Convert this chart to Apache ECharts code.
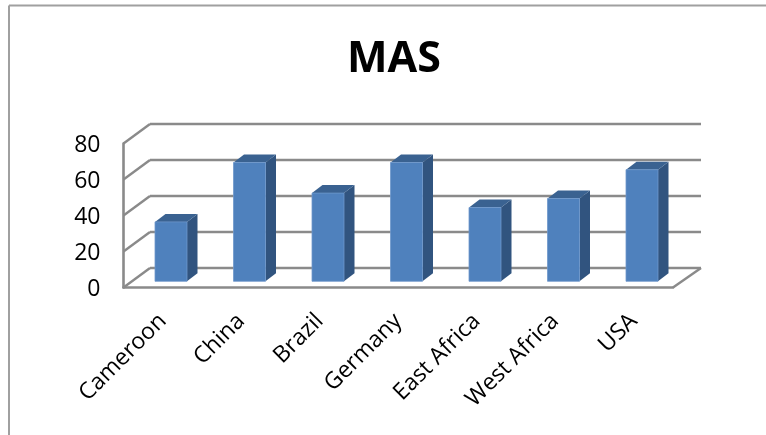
<!DOCTYPE html>
<html><head><meta charset="utf-8">
<style>html,body{margin:0;padding:0;background:#fff}#c{width:766px;height:435px}</style>
<script src="https://cdn.jsdelivr.net/npm/echarts@6/dist/echarts.min.js"></script>
</head><body><div id="c"></div>
<script>
const categories = ['Cameroon','China','Brazil','Germany','East Africa','West Africa','USA'];
const masValues = [33, 66, 49, 66, 41, 46, 62];
const yTicks = [0, 20, 40, 60, 80];
const titleText = 'MAS';
const font = '"Open Sans", sans-serif';
const gridColor = '#8a8a8a';
const wallDx = 26.5, wallDxRight = 28, wallDy = -19.5;
const barDx = 8.25, barDy = -6.2, barW = 32, sideDx = 10.5, sideDy = -8;

const chart = echarts.init(document.getElementById('c'), null, {renderer:'canvas'});
function lineEl(x1,y1,x2,y2){
  return {type:'line',shape:{x1,y1,x2,y2},style:{stroke:gridColor,lineWidth:2.4,fill:null}};
}
chart.setOption({
  animation:false,
  backgroundColor:'#fff',
  title:{text:titleText,left:389,top:33,textAlign:'center',
    textStyle:{fontFamily:font,fontSize:43,fontWeight:'bold',color:'#000'}},
  grid:{left:123.5,right:93,top:143.5,bottom:147.5,containLabel:false},
  xAxis:{type:'category',data:categories,
    axisTick:{show:false},
    axisLine:{lineStyle:{color:gridColor,width:2.6}},
    axisLabel:{rotate:45,interval:0,margin:30,fontFamily:font,fontSize:23,color:'#000'}},
  yAxis:{type:'value',min:0,max:80,interval:20,
    splitLine:{show:false},
    axisTick:{show:false},
    axisLine:{show:true,lineStyle:{color:gridColor,width:2.6}},
    axisLabel:{show:false}},
  graphic:[
    {type:'line',silent:true,z:-1,shape:{x1:9,y1:435,x2:9,y2:5.5},style:{stroke:'#a0a0a0',lineWidth:2}},
    {type:'line',silent:true,z:-1,shape:{x1:9,y1:5.5,x2:766,y2:5.5},style:{stroke:'#a0a0a0',lineWidth:2}}
  ],
  series:[
    {type:'custom',z:1,coordinateSystem:'cartesian2d',data:yTicks.map(v=>[0,v]),
     renderItem(params,api){
       const g=params.coordSys, v=api.value(1), y=api.coord([0,v])[1];
       const left=g.x, right=g.x+g.width;
       const kids=[
         lineEl(left,y,left+wallDx,y+wallDy),
         lineEl(left+wallDx,y+wallDy,right+wallDxRight,y+wallDy),
         {type:'text',style:{text:String(v),x:left-23,y:y+1.5,align:'right',verticalAlign:'middle',
           fontFamily:font,fontSize:23,fill:'#000'}}];
       if(v===0) kids.push(lineEl(right,y,right+wallDxRight,y+wallDy));
       return {type:'group',children:kids};
     }},
    {type:'custom',z:2,coordinateSystem:'cartesian2d',
     data:masValues.map((v,i)=>[i,v]),
     encode:{x:0,y:1},
     renderItem(params,api){
       const c=api.coord([api.value(0),api.value(1)]);
       const b=api.coord([api.value(0),0]);
       const x=c[0]+barDx-barW/2, top=c[1]+barDy, bot=b[1]+barDy, r=x+barW;
       return {type:'group',children:[
         {type:'polygon',shape:{points:[[r,top],[r+sideDx,top+sideDy],[r+sideDx,bot+sideDy],[r,bot]]},style:{fill:'#31547f'}},
         {type:'polygon',shape:{points:[[x,top],[x+sideDx,top+sideDy],[r+sideDx,top+sideDy],[r,top]]},style:{fill:'#3a6291'}},
         {type:'rect',shape:{x,y:top,width:barW,height:bot-top},style:{fill:'#4f81bd',stroke:'#6f98cb',lineWidth:0.8}}
       ]};
     }}
  ]
});
</script></body></html>
